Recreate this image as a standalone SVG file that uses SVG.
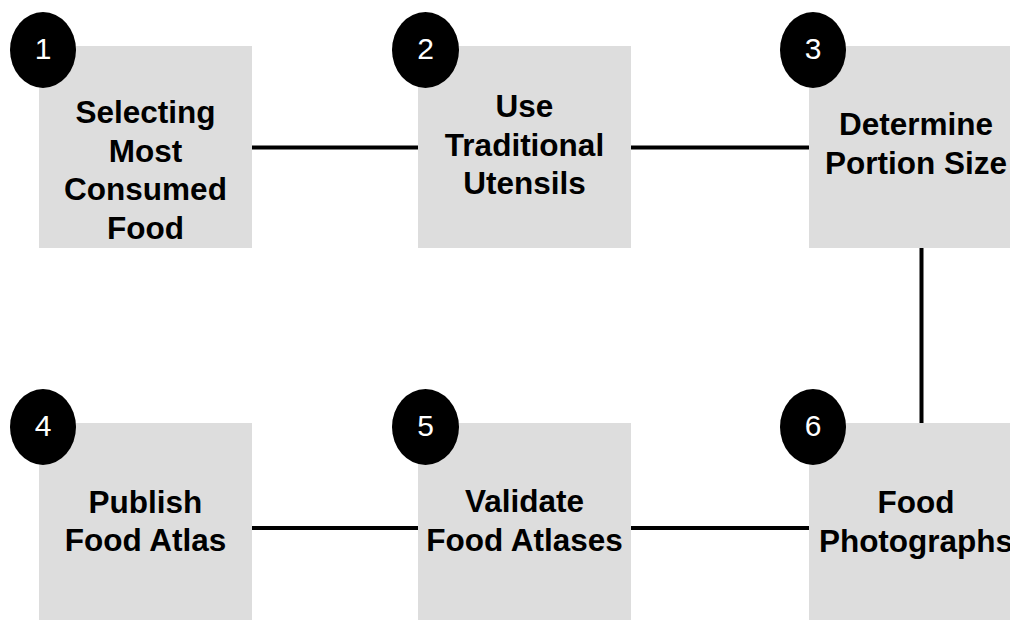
<svg xmlns="http://www.w3.org/2000/svg" width="1010" height="620" viewBox="0 0 1010 620">
<style>
.box{fill:#dddddd}
.badge{fill:#000000}
.lbl{font-family:"Liberation Sans",Arial,sans-serif;font-weight:bold;font-size:31.5px;fill:#000;text-anchor:middle}
.num{font-family:"Liberation Sans",Arial,sans-serif;font-size:30px;fill:#fff;text-anchor:middle}
.conn{stroke:#000;stroke-width:4;fill:none}
</style>
<rect width="1010" height="620" fill="#ffffff"/>
<g id="connectors">
<line class="conn" x1="252" y1="147.5" x2="418" y2="147.5"/>
<line class="conn" x1="631" y1="147.5" x2="809" y2="147.5"/>
<line class="conn" x1="921.5" y1="248" x2="921.5" y2="423"/>
<line class="conn" x1="252" y1="528" x2="418" y2="528"/>
<line class="conn" x1="631" y1="528" x2="809" y2="528"/>
</g>
<g id="node1">
<rect class="box" x="39" y="46" width="213" height="202"/>
<text class="lbl" x="145.5" y="123">Selecting</text>
<text class="lbl" x="145.5" y="161.5">Most</text>
<text class="lbl" x="145.5" y="200">Consumed</text>
<text class="lbl" x="145.5" y="238.5">Food</text>
<ellipse class="badge" cx="43" cy="50" rx="33" ry="38"/>
<text class="num" x="43" y="58.5">1</text>
</g>
<g id="node2">
<rect class="box" x="418" y="46" width="213" height="202"/>
<text class="lbl" x="524.5" y="117">Use</text>
<text class="lbl" x="524.5" y="155.5">Traditional</text>
<text class="lbl" x="524.5" y="194">Utensils</text>
<ellipse class="badge" cx="425.5" cy="50" rx="33.5" ry="38"/>
<text class="num" x="425.5" y="58.5">2</text>
</g>
<g id="node3">
<rect class="box" x="809" y="46" width="213" height="202"/>
<text class="lbl" x="916" y="135">Determine</text>
<text class="lbl" x="916" y="173.5">Portion Size</text>
<ellipse class="badge" cx="813" cy="50" rx="33" ry="38"/>
<text class="num" x="813" y="58.5">3</text>
</g>
<g id="node4">
<rect class="box" x="39" y="423" width="213" height="202"/>
<text class="lbl" x="145.5" y="512.5">Publish</text>
<text class="lbl" x="145.5" y="551">Food Atlas</text>
<ellipse class="badge" cx="43" cy="427" rx="33" ry="38"/>
<text class="num" x="43" y="436">4</text>
</g>
<g id="node5">
<rect class="box" x="418" y="423" width="213" height="202"/>
<text class="lbl" x="524.5" y="512">Validate</text>
<text class="lbl" x="524.5" y="550.5">Food Atlases</text>
<ellipse class="badge" cx="425.5" cy="427" rx="33.5" ry="38"/>
<text class="num" x="425.5" y="436">5</text>
</g>
<g id="node6">
<rect class="box" x="809" y="423" width="213" height="202"/>
<text class="lbl" x="916" y="512.5">Food</text>
<text class="lbl" x="916" y="551.5">Photographs</text>
<ellipse class="badge" cx="813" cy="427" rx="33" ry="38"/>
<text class="num" x="813" y="436">6</text>
</g>
</svg>
